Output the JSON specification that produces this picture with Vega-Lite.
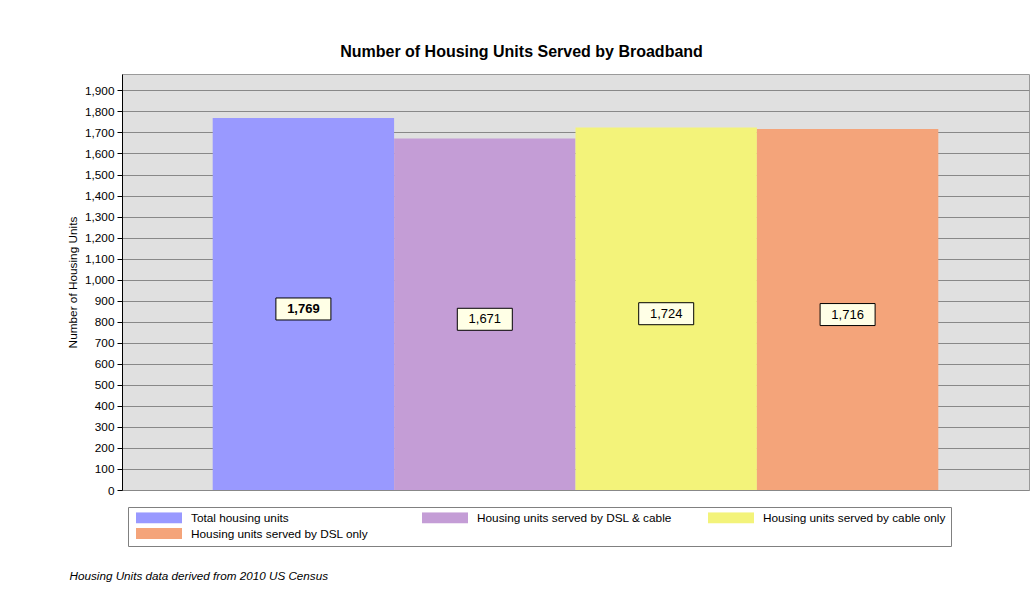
{
  "$schema": "https://vega.github.io/schema/vega-lite/v6.json",
  "width": 907,
  "height": 416,
  "autosize": {"type": "none"},
  "padding": {"left": 122, "top": 74, "right": 5, "bottom": 106},
  "background": "white",
  "config": {
    "font": "Liberation Sans",
    "view": {"fill": "#E0E0E0", "stroke": "#9a9a9a", "strokeWidth": 1},
    "axisY": {
      "labelOverlap": false,
      "labelBound": false,
      "domainColor": "black",
      "tickColor": "black",
      "tickSize": 5,
      "labelPadding": 3,
      "labelFontSize": 11.8,
      "labelColor": "black",
      "gridColor": "#888888",
      "gridOpacity": 1,
      "titleFontSize": 11.8,
      "titleFontWeight": "normal",
      "titleColor": "black",
      "titlePadding": 6
    }
  },
  "title": {
    "text": "Number of Housing Units Served by Broadband",
    "fontSize": 16,
    "fontWeight": "bold",
    "color": "black",
    "anchor": "middle",
    "offset": 14,
    "dx": -54
  },
  "data": {
    "values": [
      {"category": "Total housing units", "value": 1769},
      {"category": "Housing units served by DSL & cable", "value": 1671},
      {"category": "Housing units served by cable only", "value": 1724},
      {"category": "Housing units served by DSL only", "value": 1716}
    ]
  },
  "transform": [{"calculate": "datum.value / 2", "as": "half"}],
  "layer": [
    {
      "mark": {"type": "bar"},
      "encoding": {
        "x": {
          "field": "category",
          "type": "nominal",
          "scale": {
            "domain": ["Total housing units", "Housing units served by DSL & cable", "Housing units served by cable only", "Housing units served by DSL only"],
            "paddingInner": 0,
            "paddingOuter": 0.5
          },
          "axis": {
            "title": "Housing Units data derived from 2010 US Census",
            "labels": false,
            "ticks": false,
            "domain": false,
            "titleFontStyle": "italic",
            "titleFontWeight": "normal",
            "titleFontSize": 11.7,
            "titleColor": "black",
            "titleX": -53,
            "titleY": 85,
            "titleAlign": "left",
            "titleAnchor": "start",
            "titleBaseline": "middle"
          }
        },
        "y": {
          "field": "value",
          "type": "quantitative",
          "scale": {"domain": [0, 1978], "nice": false},
          "axis": {
            "title": "Number of Housing Units",
            "values": [0, 100, 200, 300, 400, 500, 600, 700, 800, 900, 1000, 1100, 1200, 1300, 1400, 1500, 1600, 1700, 1800, 1900],
            "format": ",d"
          }
        },
        "color": {
          "field": "category",
          "type": "nominal",
          "scale": {
            "domain": ["Total housing units", "Housing units served by DSL & cable", "Housing units served by cable only", "Housing units served by DSL only"],
            "range": ["#9999FF", "#C49DD6", "#F3F37A", "#F4A47A"]
          },
          "legend": {
            "orient": "none",
            "direction": "horizontal",
            "legendX": 6,
            "legendY": 433,
            "columns": 3,
            "title": null,
            "symbolType": "M-1,-0.24L1,-0.24L1,0.24L-1,0.24Z",
            "symbolSize": 2116,
            "symbolStrokeWidth": 0,
            "symbolOpacity": 1,
            "clipHeight": 11,
            "labelFontSize": 11.8,
            "labelColor": "black",
            "labelOffset": 9,
            "labelLimit": 400,
            "symbolOffset": 3,
            "columnPadding": 33,
            "rowPadding": 3,
            "padding": 5,
            "strokeColor": "#808080",
            "fillColor": "white",
            "gridAlign": "all"
          }
        }
      }
    },
    {
      "mark": {
        "type": "point",
        "shape": "M-1,-0.4L1,-0.4L1,0.4L-1,0.4Z",
        "size": 3025,
        "filled": true,
        "fill": "#FFFFE6",
        "stroke": "black",
        "strokeWidth": 1,
        "opacity": 1,
        "yOffset": 5
      },
      "encoding": {
        "x": {"field": "category", "type": "nominal"},
        "y": {
          "field": "half",
          "type": "quantitative",
          "axis": {
            "title": "Number of Housing Units",
            "values": [0, 100, 200, 300, 400, 500, 600, 700, 800, 900, 1000, 1100, 1200, 1300, 1400, 1500, 1600, 1700, 1800, 1900],
            "format": ",d"
          }
        }
      }
    },
    {
      "transform": [{"filter": "datum.category === 'Total housing units'"}],
      "mark": {"type": "text", "fontSize": 13, "fontWeight": "bold", "color": "black", "baseline": "middle", "yOffset": 5},
      "encoding": {
        "x": {"field": "category", "type": "nominal"},
        "y": {
          "field": "half",
          "type": "quantitative",
          "axis": {
            "title": "Number of Housing Units",
            "values": [0, 100, 200, 300, 400, 500, 600, 700, 800, 900, 1000, 1100, 1200, 1300, 1400, 1500, 1600, 1700, 1800, 1900],
            "format": ",d"
          }
        },
        "text": {"field": "value", "type": "quantitative", "format": ",d"}
      }
    },
    {
      "transform": [{"filter": "datum.category !== 'Total housing units'"}],
      "mark": {"type": "text", "fontSize": 13, "fontWeight": "normal", "color": "black", "baseline": "middle", "yOffset": 5},
      "encoding": {
        "x": {"field": "category", "type": "nominal"},
        "y": {
          "field": "half",
          "type": "quantitative",
          "axis": {
            "title": "Number of Housing Units",
            "values": [0, 100, 200, 300, 400, 500, 600, 700, 800, 900, 1000, 1100, 1200, 1300, 1400, 1500, 1600, 1700, 1800, 1900],
            "format": ",d"
          }
        },
        "text": {"field": "value", "type": "quantitative", "format": ",d"}
      }
    }
  ]
}
